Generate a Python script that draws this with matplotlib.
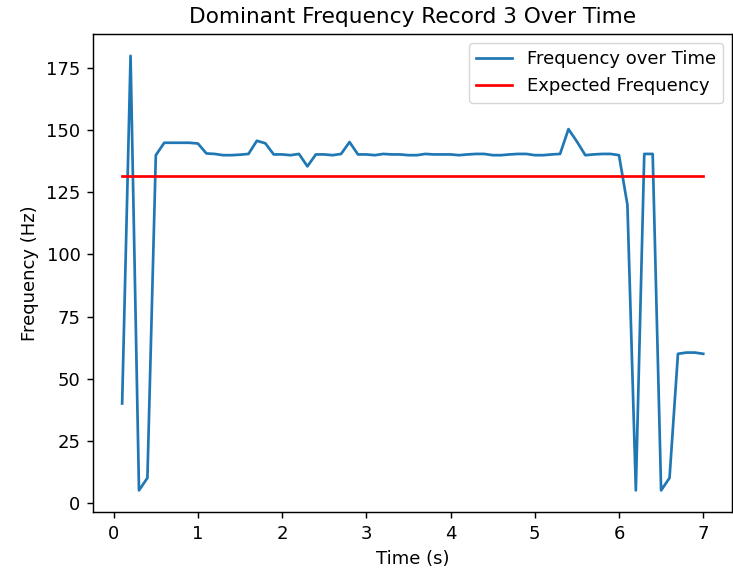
import matplotlib
matplotlib.use("Agg")
import matplotlib.pyplot as plt
import numpy as np

# data
time = np.round(np.arange(1, 71) * 0.1, 1)
frequency = [
    40, 180, 5, 10, 140, 145, 145, 145, 145, 144.7,
    140.7, 140.5, 140, 140, 140.2, 140.5, 145.8, 144.8, 140.3, 140.3,
    140, 140.5, 135.5, 140.3, 140.3, 140, 140.5, 145.3, 140.3, 140.3,
    140, 140.5, 140.3, 140.3, 140, 140, 140.5, 140.3, 140.3, 140.3,
    140, 140.3, 140.5, 140.5, 140, 140, 140.3, 140.5, 140.5, 140,
    140, 140.3, 140.5, 150.5, 145.5, 140, 140.3, 140.5, 140.5, 140,
    120, 5, 140.5, 140.5, 5, 10, 60, 60.5, 60.5, 60,
]
expected = 131.5

scale = 1.3
fig = plt.figure(figsize=(7.33, 5.69), dpi=100)
ax = fig.add_axes([0.127, 0.100, 0.872, 0.840])

ax.plot(time, frequency, color="#1f77b4", lw=1.5 * scale, label="Frequency over Time")
ax.plot(time, np.full(len(time), expected), color="red", lw=1.5 * scale, label="Expected Frequency")

ax.set_title("Dominant Frequency Record 3 Over Time", fontsize=12 * scale, pad=6 * scale)
ax.set_xlabel("Time (s)", fontsize=10 * scale, labelpad=4 * scale)
ax.set_ylabel("Frequency (Hz)", fontsize=10 * scale, labelpad=4 * scale)
ax.tick_params(labelsize=10 * scale, length=3.5 * scale, width=0.8 * scale, pad=3.5 * scale)
for s in ax.spines.values():
    s.set_linewidth(0.8 * scale)
ax.set_xticks(range(8))
ax.set_yticks(range(0, 176, 25))
ax.legend(fontsize=10 * scale, loc="upper right")

fig.savefig("out.png", dpi=100)
